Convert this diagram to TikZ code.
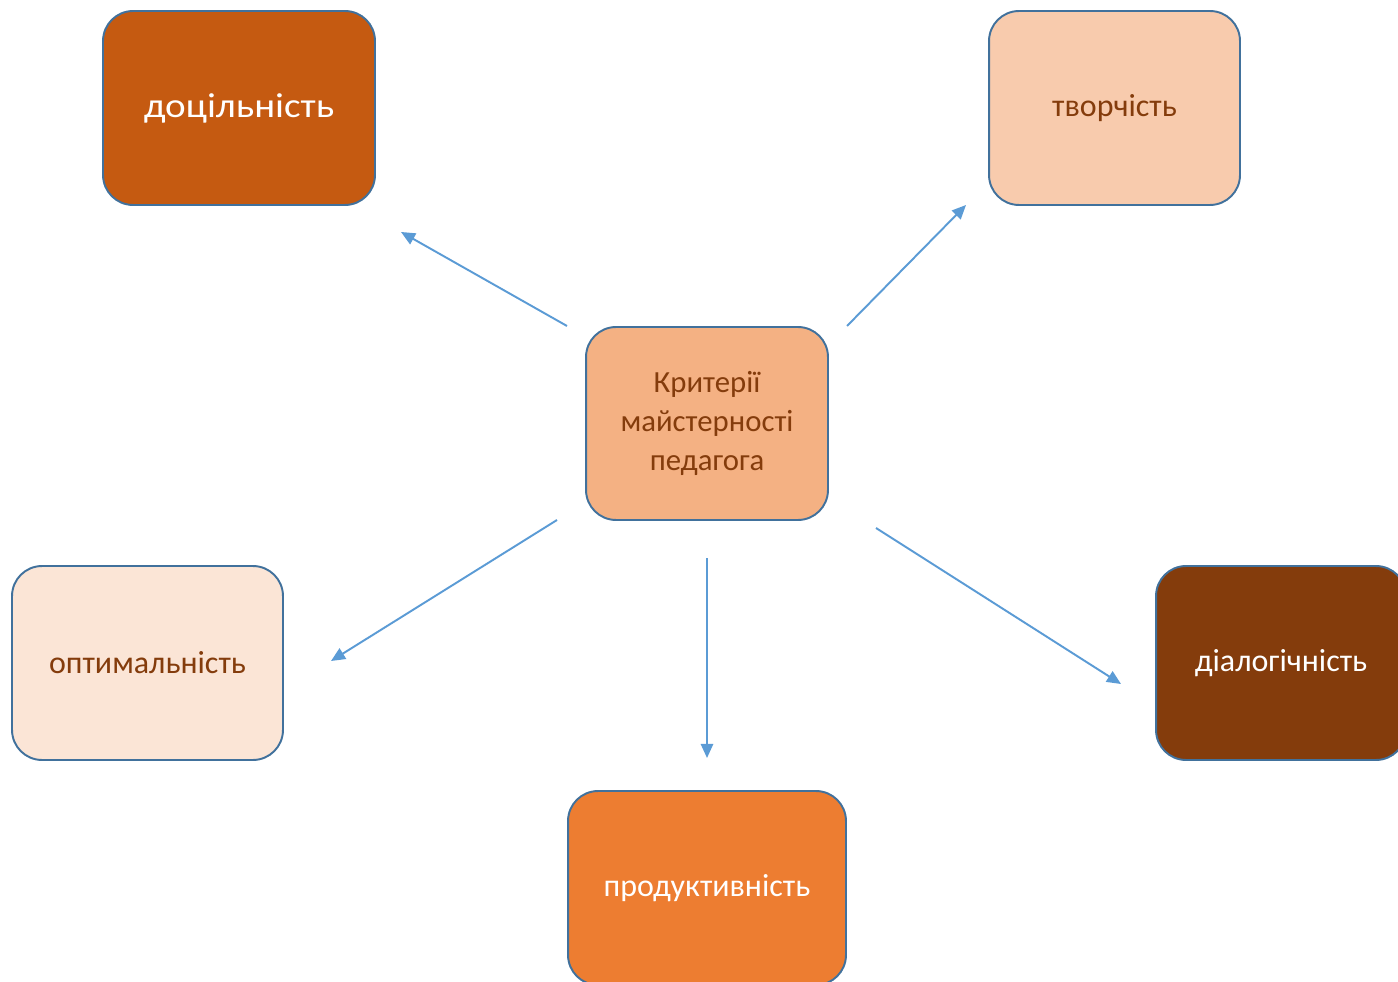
\documentclass[tikz,border=0pt]{standalone}
\usepackage{fontspec}
\setmainfont{Carlito}
\usetikzlibrary{arrows.meta}

\definecolor{edgeblue}{HTML}{41719C}
\definecolor{arrowblue}{HTML}{5B9BD5}
\definecolor{rust}{HTML}{C55A11}
\definecolor{peach}{HTML}{F8CBAD}
\definecolor{apricot}{HTML}{F4B183}
\definecolor{cream}{HTML}{FBE5D6}
\definecolor{tangerine}{HTML}{ED7D31}
\definecolor{brownish}{HTML}{843C0C}

\tikzset{
  crit/.style={draw=edgeblue, line width=1.1pt, rounded corners=0.6cm,
    minimum width=5.44cm, minimum height=3.88cm, inner sep=0pt, outer sep=0pt,
    font=\fontsize{18.2}{22}\selectfont, align=center},
  lighttext/.style={text=brownish},
  darktext/.style={text=white},
  pointer/.style={arrowblue, line width=1.1pt, -{Triangle[length=8pt,width=7pt]}}
}

\begin{document}
\begin{tikzpicture}[x=0.02cm, y=-0.02cm]
\useasboundingbox (0,0) rectangle (1398,982);
\clip (0,0) rectangle (1398,982);

% boxes
\node[crit, darktext, fill=rust, font=\fontsize{19.7}{22}\selectfont\addfontfeature{FakeStretch=1.13}] (goal) at (239,108) {доцільність};
\node[crit, lighttext, fill=peach, minimum width=5.02cm] (creat) at (1114.5,108) {творчість};
\node[crit, lighttext, fill=apricot, minimum width=4.84cm, minimum height=3.86cm,
  font=\fontsize{17.5}{22}\selectfont] (crit) at (707,423.5)
  {Критерії\\майстерності\\педагога};
\node[crit, lighttext, fill=cream, minimum width=5.42cm] (optim) at (147.5,663) {оптимальність};
\node[crit, darktext, fill=tangerine, minimum width=5.56cm] (prod) at (707,888) {продуктивність};
\node[crit, darktext, fill=brownish, minimum width=5.0cm] (dial) at (1281,663) {діалогічність};

% arrow ends
\coordinate (a1) at (567,326);  \coordinate (b1) at (401,232);
\coordinate (a2) at (847,326);  \coordinate (b2) at (966,205);
\coordinate (a3) at (557,520);  \coordinate (b3) at (331,661);
\coordinate (a4) at (707,558);  \coordinate (b4) at (707,758);
\coordinate (a5) at (876,528);  \coordinate (b5) at (1121,684);

\draw[pointer] (a1) -- (b1);
\draw[pointer] (a2) -- (b2);
\draw[pointer] (a3) -- (b3);
\draw[pointer] (a4) -- (b4);
\draw[pointer] (a5) -- (b5);
\end{tikzpicture}
\end{document}
